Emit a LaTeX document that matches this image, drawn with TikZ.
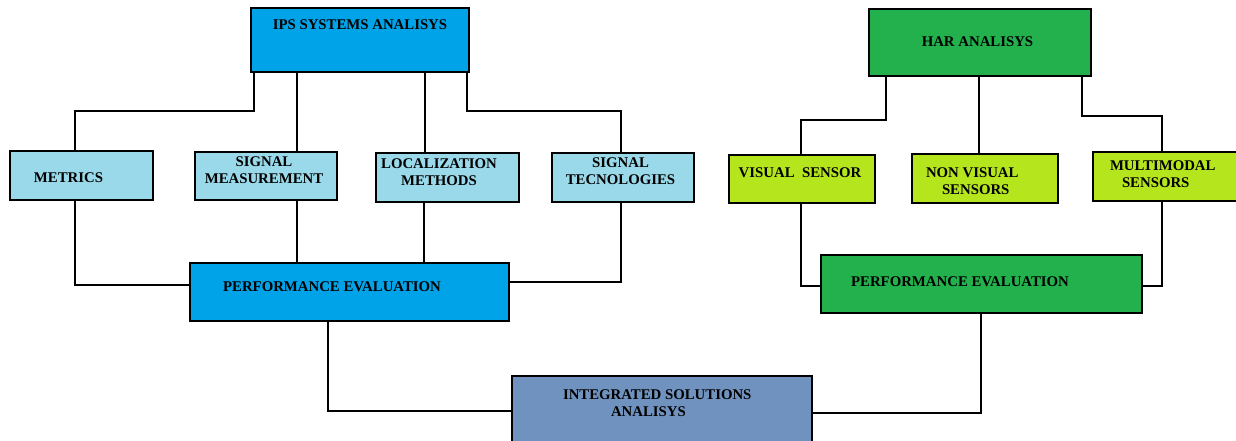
\documentclass[tikz,border=0pt]{standalone}
\usepackage{fontspec}
\setmainfont{Liberation Serif}
\definecolor{ipsblue}{HTML}{00A2E8}
\definecolor{lightblue}{HTML}{99D9EA}
\definecolor{lime}{HTML}{B5E61D}
\definecolor{grn}{HTML}{22B14C}
\definecolor{steel}{HTML}{7092BE}
\tikzset{
  box/.style={draw=black, line width=2.6pt, rectangle, inner sep=0pt, outer sep=0pt, anchor=north west},
  lbl/.style={inner sep=0pt, outer sep=0pt, font=\bfseries\fontsize{14.8}{17}\selectfont},
  conn/.style={draw=black, line width=2pt}
}
\begin{document}
\begin{tikzpicture}[x=1pt,y=-1pt]
\useasboundingbox (0,0) rectangle (1236,441);
% boxes
\node[box, fill=ipsblue, minimum width=218pt, minimum height=64pt] (ips) at (251,8) {};
\node[box, fill=grn, minimum width=222pt, minimum height=67pt] (har) at (869,9) {};
\node[box, fill=lightblue, minimum width=143pt, minimum height=49pt] (metrics) at (10,151) {};
\node[box, fill=lightblue, minimum width=142pt, minimum height=48pt] (sigmeas) at (195,152) {};
\node[box, fill=lightblue, minimum width=143pt, minimum height=49pt] (loc) at (376,153) {};
\node[box, fill=lightblue, minimum width=142pt, minimum height=49pt] (tecn) at (552,153) {};
\node[box, fill=ipsblue, minimum width=319pt, minimum height=58pt] (pe1) at (190,263) {};
\node[box, fill=lime, minimum width=146pt, minimum height=48pt] (visual) at (729,155) {};
\node[box, fill=lime, minimum width=146pt, minimum height=49pt] (nonvis) at (912,154) {};
\node[box, fill=lime, minimum width=150pt, minimum height=49pt] (multi) at (1093,152) {};
\node[box, fill=grn, minimum width=321pt, minimum height=58pt] (pe2) at (821,255) {};
\node[box, fill=steel, minimum width=300pt, minimum height=72pt] (integ) at (512,376) {};
% texts
\node[lbl] (tips) at (360,25) {IPS SYSTEMS ANALISYS};
\node[lbl] (thar) at (977.5,42) {HAR ANALISYS};
\node[lbl] (tmetrics) at (68.5,178) {METRICS};
\node[lbl, align=center] (tsigmeas) at (264,170) {SIGNAL\\MEASUREMENT};
\node[lbl, align=center] (tloc) at (439,172) {LOCALIZATION\\METHODS};
\node[lbl, align=center] (ttecn) at (620.5,171.5) {SIGNAL\\TECNOLOGIES};
\node[lbl] (tpe1) at (332,287) {PERFORMANCE EVALUATION};
\node[lbl] (tvisual) at (800,173) {VISUAL\ \ SENSOR};
\node[lbl, align=left, anchor=west] (tnonvis) at (926,181.5) {NON VISUAL\\\hspace*{16pt}SENSORS};
\node[lbl, align=left, anchor=west] (tmulti) at (1110,174.3) {MULTIMODAL\\\hspace*{12pt}SENSORS};
\node[lbl] (tpe2) at (960,281.7) {PERFORMANCE EVALUATION};
\node[lbl, align=left, anchor=west] (tinteg) at (563,403) {INTEGRATED SOLUTIONS\\\hspace*{48pt}ANALISYS};
% connectors IPS
\draw[conn] (ips.south west -| 254,0) |- (75,111) -- (metrics.north -| 75,0);
\draw[conn] (ips.south west -| 297,0) -- (sigmeas.north -| 297,0);
\draw[conn] (ips.south west -| 425,0) -- (loc.north -| 425,0);
\draw[conn] (ips.south west -| 467,0) |- (621,111) -- (tecn.north -| 621,0);
\draw[conn] (metrics.south -| 75,0) |- (pe1.west |- 0,285);
\draw[conn] (sigmeas.south -| 297,0) -- (pe1.north -| 297,0);
\draw[conn] (loc.south -| 424,0) -- (pe1.north -| 424,0);
\draw[conn] (tecn.south -| 621,0) |- (pe1.east |- 0,282);
\draw[conn] (pe1.south -| 328,0) |- (integ.west |- 0,411);
\draw[conn] (integ.east |- 0,413) -| (pe2.south -| 981,0);
% connectors HAR
\draw[conn] (har.south west -| 886,0) |- (801,120) -- (visual.north -| 801,0);
\draw[conn] (har.south west -| 979,0) -- (nonvis.north -| 979,0);
\draw[conn] (har.south west -| 1082,0) |- (1162,116) -- (multi.north -| 1162,0);
\draw[conn] (visual.south -| 801,0) |- (pe2.west |- 0,286);
\draw[conn] (multi.south -| 1162,0) |- (pe2.east |- 0,286);
\end{tikzpicture}
\end{document}
